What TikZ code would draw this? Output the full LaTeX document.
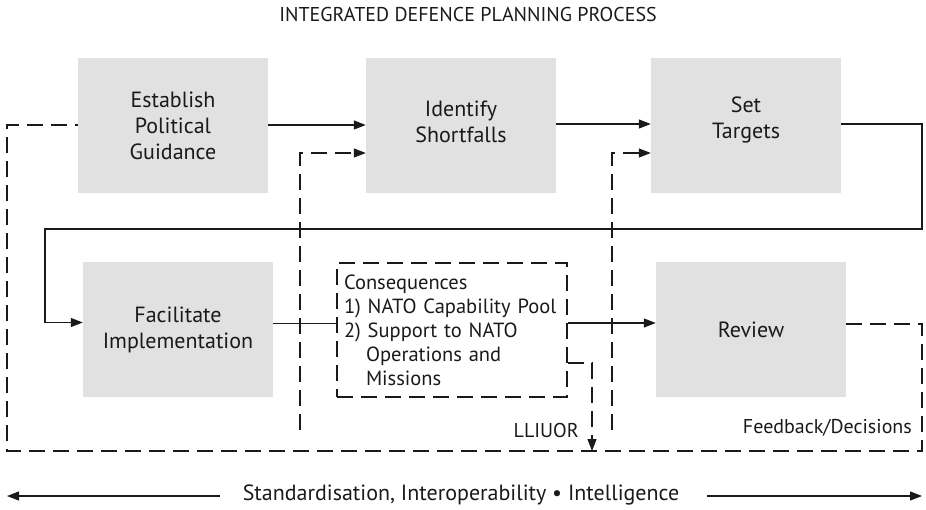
\documentclass[tikz,border=0pt]{standalone}
\usepackage{fontspec}
\setmainfont{PT Sans}
\usetikzlibrary{arrows.meta}
\definecolor{boxgray}{HTML}{E1E1E1}
\definecolor{ink}{HTML}{1A1A1A}
\begin{document}
\begin{tikzpicture}[x=1pt,y=-1pt,
  proc/.style={fill=boxgray, minimum width=190pt, minimum height=135pt, inner sep=0pt, align=center, font=\fontsize{22}{26}\selectfont, text=ink},
  lbl/.style={font=\fontsize{20}{24}\selectfont, text=ink, inner sep=0pt},
  tip/.style={-{Triangle[length=12pt,width=9pt]}},
  solidline/.style={draw=ink, line width=1.2pt},
  dashline/.style={draw=ink, line width=1.1pt, dash pattern=on 16pt off 8pt}
]
\useasboundingbox (0,0) rectangle (926,509);

% title
\node[font=\fontsize{20}{24}\selectfont, text=ink] (title) at (468,14) {INTEGRATED DEFENCE PLANNING PROCESS};

% process boxes
\node[proc] (b1) at (173,125.5) {Establish\\Political\\Guidance};
\node[proc] (b2) at (461,125.5) {Identify\\Shortfalls\\[-18pt]\mbox{}};
\node[proc] (b3) at (746,125.5) {Set\\Targets\\[-10pt]\mbox{}};
\node[proc] (b4) at (178,329.5) {Facilitate\\Implementation};
\node[proc] (b5) at (751,329.5) {Review};

% consequences box
\node[draw=ink, line width=1.1pt, dash pattern=on 16pt off 8pt, minimum width=230pt, minimum height=134pt,
      text width=216pt, align=left, inner xsep=7pt, inner ysep=0pt,
      font=\fontsize{20.5}{24}\selectfont, text=ink] (cons) at (452,330)
  {Consequences\\
   1) NATO Capability Pool\\
   2) Support to NATO\\
   \hspace*{22pt}Operations and\\
   \hspace*{22pt}Missions};

% free ends
\coordinate (f1) at (300,430);
\coordinate (f2) at (612,430);
\coordinate (ll) at (592,451);
\coordinate (la) at (7,496);
\coordinate (ra) at (922,496);

% solid connectors
\draw[solidline, tip] (b1.east |- 0,125) -- (b2.west |- 0,125);
\draw[solidline, tip] (b2.east |- 0,124) -- (b3.west |- 0,124);
\draw[solidline, tip] (b3.east |- 0,124) -- (922,124) -- (922,229) -- (45,229) |- ([yshift=7pt]b4.west);
\draw[solidline] ([yshift=6pt]b4.east) -- (cons.west |- 0,323.5);
\draw[solidline, tip] (cons.east |- 0,323) -- (b5.west |- 0,323);

% dashed feedback loop
\draw[dashline] (b5.east |- 0,324) -| (922,451) -| (7,125) -- (b1.west |- 0,125);

% dashed arrows
\draw[dashline, tip] (f1) |- (b2.west |- 0,153);
\draw[dashline, tip] (f2) |- (b3.west |- 0,153);
\draw[dashline, tip] (cons.east |- 0,363) -| (ll);

% labels
\node[lbl, anchor=east] (lliuor) at (579,430) {LLIUOR};
\node[lbl, anchor=east] (fd) at (912,428) {Feedback/Decisions};

% bottom
\node[font=\fontsize{22}{26}\selectfont, text=ink, inner sep=0pt] (std) at (461,495) {Standardisation, Interoperability \textbullet\ Intelligence};
\draw[solidline, tip] (220,496) -- (la);
\draw[solidline, tip] (707,496) -- (ra);
\end{tikzpicture}
\end{document}
